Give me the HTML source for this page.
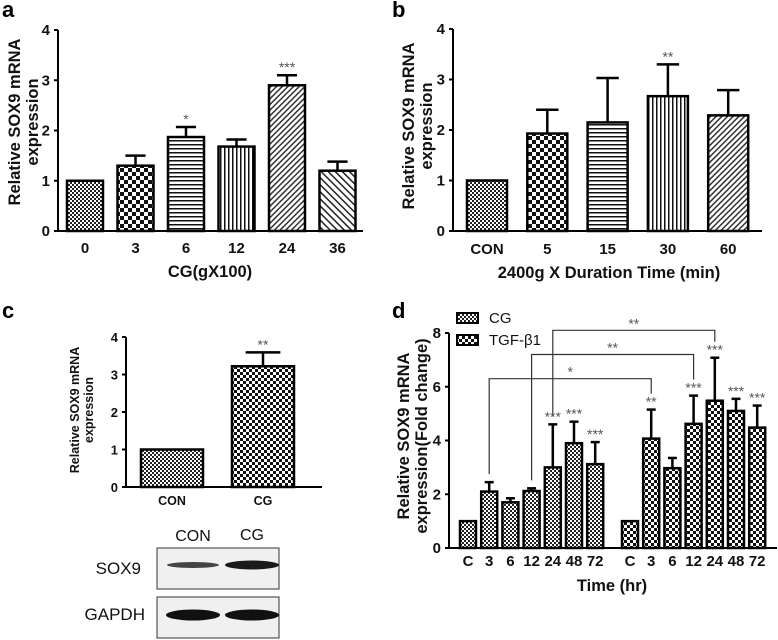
<!DOCTYPE html>
<html><head><meta charset="utf-8">
<style>
html,body{margin:0;padding:0;background:#fff;}
svg{display:block;font-family:"Liberation Sans",Arial,sans-serif;}
.tk{font-size:15px;font-weight:bold;fill:#111;}
.tt{font-size:16.5px;font-weight:bold;fill:#111;}
.pl{font-size:22px;font-weight:bold;fill:#000;}
.st{font-size:14px;fill:#555;}
</style></head>
<body>
<svg id="fig" width="778" height="640" viewBox="0 0 778 640" xmlns="http://www.w3.org/2000/svg">
<defs>
<pattern id="pFine" width="4" height="4" patternUnits="userSpaceOnUse"><rect width="4" height="4" fill="#fff"/><rect width="2" height="2" fill="#222"/><rect x="2" y="2" width="2" height="2" fill="#222"/></pattern>
<pattern id="pCheck" width="8" height="8" patternUnits="userSpaceOnUse"><rect width="8" height="8" fill="#fff"/><rect width="4" height="4" fill="#111"/><rect x="4" y="4" width="4" height="4" fill="#111"/></pattern>
<pattern id="pCheck6" width="6" height="6" patternUnits="userSpaceOnUse"><rect width="6" height="6" fill="#fff"/><rect width="3" height="3" fill="#111"/><rect x="3" y="3" width="3" height="3" fill="#111"/></pattern>
<pattern id="pHor" width="4" height="4" patternUnits="userSpaceOnUse"><rect width="4" height="4" fill="#fff"/><rect width="4" height="1.5" fill="#111"/></pattern>
<pattern id="pVer" width="4" height="4" patternUnits="userSpaceOnUse"><rect width="4" height="4" fill="#fff"/><rect width="1.5" height="4" fill="#111"/></pattern>
<pattern id="pDiag" width="4" height="4" patternUnits="userSpaceOnUse" patternTransform="rotate(45)"><rect width="4" height="4" fill="#fff"/><rect width="1.5" height="4" fill="#333"/></pattern>
<pattern id="pDiag2" width="5" height="5" patternUnits="userSpaceOnUse" patternTransform="rotate(-45)"><rect width="5" height="5" fill="#fff"/><rect width="1.5" height="5" fill="#222"/></pattern>
</defs>
<g id="root"></g>
</svg>
<script>
// Panel a
const aCats=["0","3","6","12","24","36"];
const aVals=[1,1.3,1.87,1.68,2.9,1.2];
const aErrs=[0,0.2,0.2,0.14,0.2,0.18];
const aStars=["","","*","","***",""];
// Panel b
const bCats=["CON","5","15","30","60"];
const bVals=[1,1.93,2.15,2.67,2.29];
const bErrs=[0,0.47,0.88,0.63,0.5];
const bStars=["","","","**",""];
// Panel c
const cCats=["CON","CG"];
const cVals=[1,3.22];
const cErrs=[0,0.37];
const cStars=["","**"];
// Panel d
const dCats=["C","3","6","12","24","48","72"];
const dCG=[1,2.1,1.7,2.12,3.0,3.9,3.12];
const dCGErr=[0,0.35,0.15,0.1,1.6,0.8,0.82];
const dCGStars=["","","","","***","***","***"];
const dTGF=[1,4.07,2.97,4.62,5.48,5.1,4.48];
const dTGFErr=[0,1.08,0.38,1.05,1.6,0.45,0.82];
const dTGFStars=["","**","","***","***","***","***"];
const yTicks4=[0,1,2,3,4];
const yTicks8=[0,2,4,6,8];

const NS="http://www.w3.org/2000/svg";
const root=document.getElementById('root');
function el(tag,attrs,parent,text){const e=document.createElementNS(NS,tag);for(const k in attrs)e.setAttribute(k,attrs[k]);if(text!==undefined)e.textContent=text;(parent||root).appendChild(e);return e;}
function scaleY(y0,y1,max){return v=>y0-(y0-y1)*v/max;}

function axes(g,x0,xEnd,y0,y,ticks,tickFont){
  const ax=el('line',{x1:x0,y1:y0,x2:x0,y2:y(ticks[ticks.length-1]),stroke:'#000','stroke-width':2},g);
  
  
  const bx=el('line',{x1:x0,y1:y0,x2:xEnd,y2:y0,stroke:'#000','stroke-width':2},g);
  
  
  ticks.forEach(t=>{
    el('line',{x1:x0-4,y1:y(t),x2:x0,y2:y(t),stroke:'#000','stroke-width':2},g);
    const tx=el('text',{x:x0-8,y:y(t)+5,'text-anchor':'end',class:'tk',style:tickFont||''},g,String(t));
    
    
  });
}
function bar(g,cx,w,y,v,e,fill,star,name){
  const y0=y(0);
  if(e>0){
    el('line',{x1:cx,y1:y(v),x2:cx,y2:y(v+e),stroke:'#000','stroke-width':2.5},g);
    el('line',{x1:cx-w*0.28,y1:y(v+e),x2:cx+w*0.28,y2:y(v+e),stroke:'#000','stroke-width':2.5},g);
  }
  const r=el('rect',{x:cx-w/2,y:y(v),width:w,height:y0-y(v),fill:'url(#'+fill+')',stroke:'#000','stroke-width':2.5},g);
  
  
  if(star){
    const s=el('text',{x:cx,y:y(v+e)-3,'text-anchor':'middle',class:'st'},g,star);
    
    
  }
}
function ylabel(g,x,cy,lines,size){
  const t=el('text',{transform:`translate(${x},${cy}) rotate(-90)`,'text-anchor':'middle',style:`font-size:${size}px;font-weight:bold;fill:#111`},g);
  
  
  lines.forEach((l,i)=>{el('tspan',{x:0,dy:i?size*1.1:0},t,l);});
}
function plabel(x,y,s){const t=el('text',{x:x,y:y,class:'pl'},root,s);}

// ---- Panel a
(function(){
  const g=el('g',{});
  const y=scaleY(231,30,4);
  const fills=['pFine','pCheck','pHor','pVer','pDiag','pDiag2'];
  aCats.forEach((c,i)=>{
    const cx=85+i*50.5;
    bar(g,cx,36,y,aVals[i],aErrs[i],fills[i],aStars[i],'bar-'+c);
    const t=el('text',{x:cx,y:253,'text-anchor':'middle',class:'tk'},g,c);
    
  });
  axes(g,58,363,231,y,yTicks4);
  const tt=el('text',{x:210,y:277,'text-anchor':'middle',class:'tt'},g,'CG(gX100)');
  
  ylabel(g,20,122,['Relative SOX9 mRNA','expression'],16.5);
  plabel(2,17,'a');
})();
// ---- Panel b
(function(){
  const g=el('g',{});
  const y=scaleY(231,29,4);
  const fills=['pFine','pCheck','pHor','pVer','pDiag'];
  bCats.forEach((c,i)=>{
    const cx=487+i*60.3;
    bar(g,cx,40,y,bVals[i],bErrs[i],fills[i],bStars[i],'bar-'+c);
    const t=el('text',{x:cx,y:254,'text-anchor':'middle',class:'tk'},g,c);
    
  });
  axes(g,453,762,231,y,yTicks4);
  const tt=el('text',{x:609,y:278,'text-anchor':'middle',class:'tt'},g,'2400g X Duration Time (min)');
  
  ylabel(g,414,126,['Relative SOX9 mRNA','expression'],16.5);
  plabel(392,17,'b');
})();
// ---- Panel c
(function(){
  const g=el('g',{});
  const y=scaleY(487,337,4);
  const fills=['pFine','pCheck6'];
  cCats.forEach((c,i)=>{
    const cx=172+i*91;
    bar(g,cx,62,y,cVals[i],cErrs[i],fills[i],cStars[i],'bar-'+c);
    const t=el('text',{x:cx,y:505,'text-anchor':'middle',class:'tk',style:'font-size:12.5px'},g,c);
    
  });
  axes(g,126,322,487,y,yTicks4,'font-size:13px');
  ylabel(g,79,410,['Relative SOX9 mRNA','expression'],12.5);
  plabel(2,318,'c');
  // western blot
  const w=el('g',{});
  el('text',{x:193,y:541,'text-anchor':'middle',style:'font-size:16px;fill:#111'},w,'CON');
  el('text',{x:252,y:540,'text-anchor':'middle',style:'font-size:16px;fill:#111'},w,'CG');
  el('rect',{x:157,y:548,width:122,height:41,fill:'#f0f0f0',stroke:'#333','stroke-width':1},w);
  el('rect',{x:157,y:597,width:122,height:41,fill:'#f0f0f0',stroke:'#333','stroke-width':1},w);
  el('ellipse',{cx:193,cy:565,rx:26,ry:3,fill:'#444'},w);
  el('ellipse',{cx:252,cy:565,rx:27,ry:4.5,fill:'#1a1a1a'},w);
  el('ellipse',{cx:193,cy:615,rx:27,ry:5.5,fill:'#111'},w);
  el('ellipse',{cx:252,cy:615,rx:27,ry:5.5,fill:'#111'},w);
  el('text',{x:141,y:574,'text-anchor':'end',style:'font-size:17px;fill:#111'},w,'SOX9');
  el('text',{x:145,y:620,'text-anchor':'end',style:'font-size:17px;fill:#111'},w,'GAPDH');
})();
// ---- Panel d
(function(){
  const g=el('g',{});
  const y=scaleY(548,333,8);
  const sp=21.2;
  const xCG=i=>468+i*sp, xT=i=>630+i*sp;
  const br=[[1,1,6.3,'*'],[3,3,7.2,'**'],[4,4,8.1,'**']];
  br.forEach(b=>{
    const x1=xCG(b[0]),x2=xT(b[1]);
    const l=el('polyline',{points:`${x1},${y(dCG[b[0]]+dCGErr[b[0]])-8} ${x1},${y(b[2])} ${x2},${y(b[2])} ${x2},${y(dTGF[b[1]]+dTGFErr[b[1]])-16}`,fill:'none',stroke:'#333','stroke-width':1.2},g);
    
    el('text',{x:(x1+x2)/2,y:y(b[2])-2,'text-anchor':'middle',class:'st'},g,b[3]);
  });
  dCats.forEach((c,i)=>{
    bar(g,xCG(i),16,y,dCG[i],dCGErr[i],'pFine',dCGStars[i],'bar-cg-'+c);
    bar(g,xT(i),16,y,dTGF[i],dTGFErr[i],'pCheck6',dTGFStars[i],'bar-tgf-'+c);
    [xCG(i),xT(i)].forEach(x=>{
      const t=el('text',{x:x,y:566,'text-anchor':'middle',class:'tk'},g,c);
      
    });
  });
  axes(g,449,777,548,y,yTicks8);
  const tt=el('text',{x:612,y:591,'text-anchor':'middle',class:'tt'},g,'Time (hr)');
  
  ylabel(g,409,436,['Relative SOX9 mRNA','expression(Fold change)'],16.5);
  const lg=el('g',{});
  [['pFine','CG',318],['pCheck6','TGF-β1',340]].forEach(e=>{
    const r=el('rect',{x:457,y:e[2]-5,width:21,height:10,fill:'url(#'+e[0]+')',stroke:'#000','stroke-width':2},lg);
    
    const t=el('text',{x:489,y:e[2]+5,style:'font-size:15px;fill:#111'},lg,e[1]);
    
  });
  plabel(392,318,'d');
})();
</script>
</body></html>
